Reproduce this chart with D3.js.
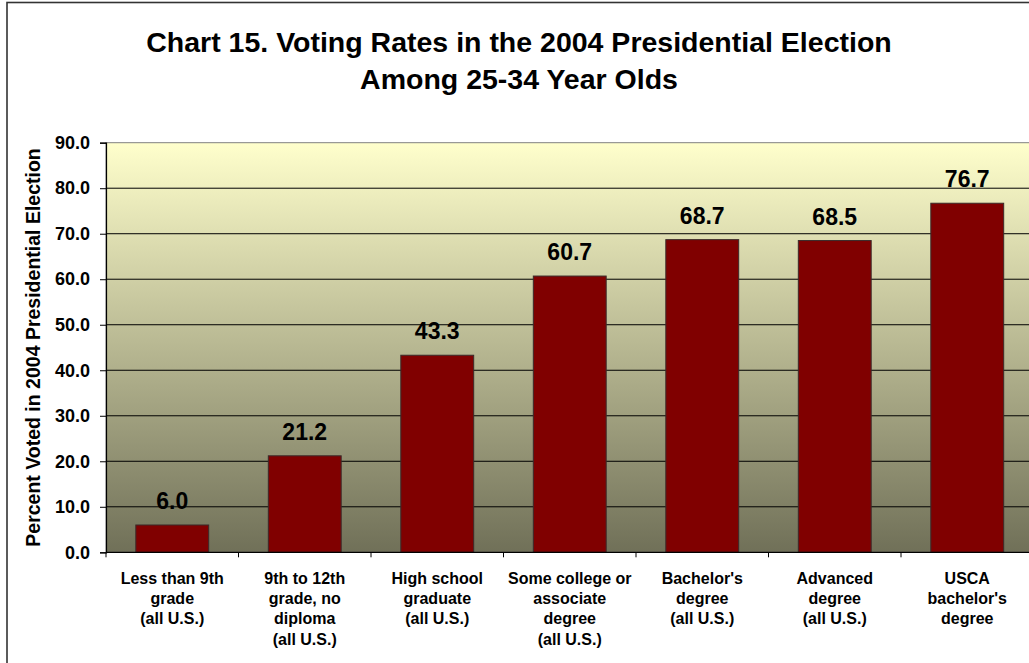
<!DOCTYPE html>
<html>
<head>
<meta charset="utf-8">
<script src="https://cdn.jsdelivr.net/npm/d3@7"></script>
<style>
  html, body { margin: 0; padding: 0; background: #fff; }
  svg { display: block; font-family: Arial, "Liberation Sans", Helvetica, sans-serif; }
</style>
</head>
<body>
<svg id="chart" width="1029" height="663"></svg>
<script>
// Voting rates by educational attainment, ages 25-34, 2004 presidential election
const categories = [
  ["Less than 9th", "grade", "(all U.S.)"],
  ["9th to 12th", "grade, no", "diploma", "(all U.S.)"],
  ["High school", "graduate", "(all U.S.)"],
  ["Some college or", "associate", "degree", "(all U.S.)"],
  ["Bachelor's", "degree", "(all U.S.)"],
  ["Advanced", "degree", "(all U.S.)"],
  ["USCA", "bachelor's", "degree"]
];
const votedPct = [6.0, 21.2, 43.3, 60.7, 68.7, 68.5, 76.7];
const yTicks = [0, 10, 20, 30, 40, 50, 60, 70, 80, 90];
const titleLines = [
  "Chart 15. Voting Rates in the 2004 Presidential Election",
  "Among 25-34 Year Olds"
];
const yAxisTitle = "Percent Voted in 2004 Presidential Election";

const svg = d3.select("#chart");
const plot = { left: 106, right: 1033.5, top: 142.7, bottom: 552.3 };

const keys = categories.map((c, i) => i);
const x = d3.scaleBand()
  .domain(keys)
  .range([plot.left, plot.right])
  .paddingInner(0.45)
  .paddingOuter(0.225);

const y = d3.scaleLinear()
  .domain([0, 90])
  .range([plot.bottom, plot.top]);

// Outer chart frame
svg.append("rect")
  .attr("x", 7).attr("y", 2.5)
  .attr("width", 1060).attr("height", 700)
  .attr("fill", "#fff")
  .attr("stroke", "#333").attr("stroke-width", 1.6);

// Plot background gradient
const defs = svg.append("defs");
const grad = defs.append("linearGradient")
  .attr("id", "plotBg").attr("x1", 0).attr("y1", 0).attr("x2", 0).attr("y2", 1);
grad.append("stop").attr("offset", "0%").attr("stop-color", "#FFFFCC");
grad.append("stop").attr("offset", "100%").attr("stop-color", "#707058");

svg.append("rect")
  .attr("x", plot.left).attr("y", plot.top)
  .attr("width", plot.right - plot.left).attr("height", plot.bottom - plot.top)
  .attr("fill", "url(#plotBg)")
  .attr("stroke", "#808080").attr("stroke-width", 1);

// Gridlines
svg.append("g")
  .selectAll("line")
  .data(yTicks.filter(t => t > 0 && t < 90))
  .join("line")
  .attr("x1", plot.left).attr("x2", plot.right)
  .attr("y1", d => y(d)).attr("y2", d => y(d))
  .attr("stroke", "#000").attr("stroke-width", 1);

// Bars
svg.append("g")
  .selectAll("rect")
  .data(votedPct)
  .join("rect")
  .attr("x", (d, i) => x(i))
  .attr("y", d => y(d))
  .attr("width", x.bandwidth())
  .attr("height", d => y(0) - y(d))
  .attr("fill", "#800000")
  .attr("stroke", "#3a2a2a").attr("stroke-width", 1);

// Value labels
svg.append("g")
  .selectAll("text")
  .data(votedPct)
  .join("text")
  .attr("x", (d, i) => x(i) + x.bandwidth() / 2)
  .attr("y", d => y(d) - 16)
  .attr("text-anchor", "middle")
  .attr("font-size", 23).attr("font-weight", "bold").attr("fill", "#000")
  .text(d => d.toFixed(1));

// Y axis
const yAxis = d3.axisLeft(y)
  .tickValues(yTicks)
  .tickFormat(d => d.toFixed(1))
  .tickSize(6)
  .tickPadding(10);
const yg = svg.append("g")
  .attr("transform", `translate(${plot.left},0)`)
  .call(yAxis);
yg.select(".domain").attr("stroke", "#000").attr("stroke-width", 1.2);
yg.selectAll(".tick line").attr("stroke", "#000");
yg.selectAll(".tick text")
  .attr("font-size", 18).attr("font-weight", "bold").attr("fill", "#000")
  .attr("font-family", "Arial, 'Liberation Sans', sans-serif");

// X axis baseline with category boundary ticks
const xg = svg.append("g");
xg.append("line")
  .attr("x1", plot.left).attr("x2", plot.right)
  .attr("y1", plot.bottom).attr("y2", plot.bottom)
  .attr("stroke", "#000").attr("stroke-width", 1.2);
xg.selectAll("line.bound")
  .data(keys.concat([keys.length]))
  .join("line")
  .attr("class", "bound")
  .attr("x1", i => plot.left + i * x.step())
  .attr("x2", i => plot.left + i * x.step())
  .attr("y1", plot.bottom).attr("y2", plot.bottom + 5)
  .attr("stroke", "#000");

// Category labels
const catG = svg.append("g")
  .selectAll("text")
  .data(categories)
  .join("text")
  .attr("x", (d, i) => x(i) + x.bandwidth() / 2)
  .attr("y", 583.5)
  .attr("text-anchor", "middle")
  .attr("font-size", 16).attr("font-weight", "bold").attr("fill", "#000");
catG.selectAll("tspan")
  .data(d => d)
  .join("tspan")
  .attr("x", function () { return this.parentNode.getAttribute("x"); })
  .attr("dy", (d, j) => j === 0 ? 0 : 20.4)
  .text(d => d);

// Y axis title
svg.append("text")
  .attr("transform", `translate(40,${(plot.top + plot.bottom) / 2}) rotate(-90)`)
  .attr("text-anchor", "middle")
  .attr("font-size", 19.5).attr("font-weight", "bold").attr("fill", "#000")
  .text(yAxisTitle);

// Chart title
svg.append("g")
  .selectAll("text")
  .data(titleLines)
  .join("text")
  .attr("x", 519)
  .attr("y", (d, i) => 52 + i * 36.5)
  .attr("text-anchor", "middle")
  .attr("font-size", 28.5).attr("font-weight", "bold").attr("fill", "#000")
  .text(d => d);
</script>
</body>
</html>
